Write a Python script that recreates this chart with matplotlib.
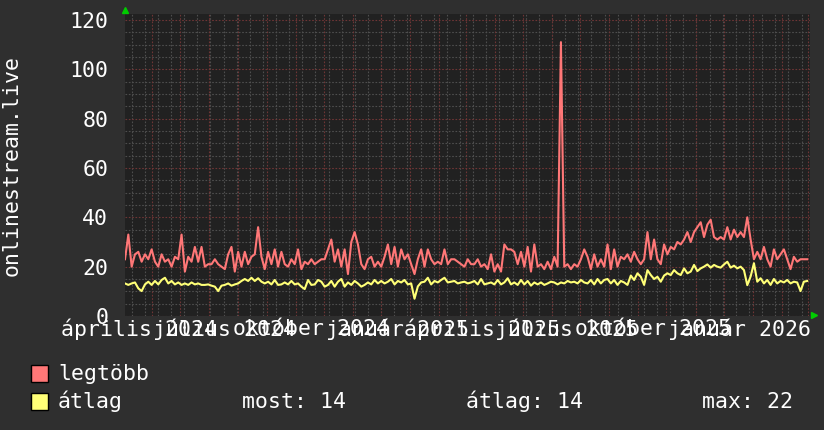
import numpy as np
import pandas as pd
import matplotlib
matplotlib.use("Agg")
import matplotlib.pyplot as plt
from matplotlib.patches import Rectangle

#----data----

legtobb = [
    23, 33, 20, 25, 26, 22, 25, 23, 27, 22,
    20, 25, 22, 23, 20, 24, 23, 33, 18, 24,
    22, 28, 22, 28, 20, 21, 21, 23, 21, 20,
    19, 25, 28, 18, 26, 20, 26, 21, 24, 25,
    36, 24, 19, 26, 21, 27, 20, 26, 21, 20,
    23, 21, 27, 19, 22, 21, 23, 21, 22, 23,
    23, 27, 31, 22, 27, 20, 27, 17, 30, 34,
    29, 21, 19, 23, 24, 20, 22, 20, 24, 29,
    21, 28, 20, 27, 23, 25, 21, 17, 23, 27,
    20, 27, 23, 21, 22, 21, 27, 21, 23, 23,
    22, 21, 20, 23, 21, 21, 23, 20, 21, 19,
    25, 18, 21, 18, 29, 27, 27, 26, 21, 26,
    20, 28, 18, 29, 20, 21, 19, 22, 19, 24,
    20, 111, 20, 21, 19, 21, 20, 23, 27,
    24, 19, 25, 20, 23, 20, 29, 19, 27, 20,
    24, 23, 25, 22, 26, 23, 21, 23, 34, 23,
    31, 23, 21, 29, 25, 28, 27, 30, 29, 31,
    34, 30, 34, 36, 38, 32, 37, 39, 32, 31,
    32, 31, 36, 31, 35, 32, 34, 32, 40, 31,
    23, 26, 23, 28, 23, 20, 27, 23, 25, 27,
    23, 19, 24, 22, 23, 23, 23,
]

atlag = [
    13.2, 12.6, 13.2, 13.6, 11.2, 10.1, 12.8, 13.9, 12.6, 14.2,
    12.8, 14.6, 15.5, 13.2, 14.2, 12.8, 13.6, 12.6, 13.2, 12.6,
    13.6, 12.8, 13.2, 12.6, 12.6, 12.8, 12.3, 11.9, 10.1, 12.3,
    12.6, 13.2, 12.3, 12.8, 13.2, 14.2, 15.0, 14.2, 15.5, 14.2,
    15.3, 13.9, 13.2, 13.9, 12.8, 14.6, 12.6, 12.8, 13.6, 12.8,
    14.2, 12.8, 13.2, 11.9, 10.9, 14.6, 12.6, 12.8, 14.6, 13.9,
    11.9, 12.6, 14.2, 11.9, 13.9, 15.0, 11.9, 13.6, 12.6, 14.2,
    13.2, 11.9, 12.6, 13.6, 12.8, 14.6, 13.2, 14.2, 13.2, 13.9,
    15.0, 12.8, 14.2, 13.6, 14.6, 12.8, 13.2, 7.0, 12.0, 13.6,
    13.9, 15.5, 12.8, 14.2, 13.6, 14.6, 15.5, 13.6, 13.9, 14.2,
    13.2, 13.6, 13.9, 13.2, 13.6, 14.2, 12.8, 15.0, 12.8, 13.2,
    13.6, 12.8, 14.6, 12.8, 13.6, 15.3, 12.8, 13.6, 12.6, 14.6,
    12.8, 14.2, 12.3, 13.6, 12.8, 13.6, 12.6, 13.2, 13.9, 13.6,
    12.8, 13.6, 13.2, 14.2, 13.6, 13.9, 13.2, 14.6, 13.6,
    13.2, 14.6, 12.8, 15.0, 13.2, 14.6, 15.0, 13.2, 14.6, 12.6,
    14.2, 13.6, 12.6, 16.4, 14.6, 17.3, 15.9, 12.6, 18.6, 16.6,
    15.0, 15.9, 13.9, 16.4, 17.3, 16.6, 18.6, 17.3, 16.6, 19.3,
    17.3, 18.0, 20.7, 18.2, 19.3, 20.0, 20.9, 19.6, 20.7, 20.0,
    19.6, 20.9, 22.0, 19.6, 20.4, 19.3, 20.0, 18.6, 12.5, 16.0,
    21.4, 13.9, 15.3, 13.2, 14.6, 12.6, 15.0, 13.2, 14.2, 13.6,
    14.6, 13.2, 13.9, 13.6, 10.1, 13.9, 14.2,
]

dates = pd.date_range("2024-03-17", "2026-03-14", periods=len(legtobb))

label_dates = pd.to_datetime(["2024-04-01", "2024-07-01", "2024-10-01", "2025-01-01",
                              "2025-04-01", "2025-07-01", "2025-10-01", "2026-01-01"])
label_texts = ["április 2024", "július 2024", "október 2024", "január 2025",
               "április 2025", "július 2025", "október 2025", "január 2026"]
y_ticks = [0, 20, 40, 60, 80, 100, 120]

series_names = ["legtöbb", "átlag"]
stats = ["most: 14", "átlag: 14", "max: 22"]
y_title = "onlinestream.live"

#----style----

BG = "#2f2f2f"
CANVAS = "#212121"
RED = "#ff7777"
YELLOW = "#ffff77"
GRID_MINOR = "#4e4e4e"
GRID_MAJOR = "#6e3535"
FONT = "DejaVu Sans Mono"
FS = 15.5

W, H = 824, 430
fig = plt.figure(figsize=(W / 100, H / 100), dpi=100, facecolor=BG)
ax = fig.add_axes([125 / W, 1 - 316 / H, 685 / W, 302 / H])
ax.set_facecolor(CANVAS)

x0 = pd.Timestamp("2024-03-17")
x1 = pd.Timestamp("2026-03-17")
ax.set_xlim(x0, x1)
ax.set_ylim(0, 122.4)

#----grid----
ax.set_yticks(y_ticks)
ax.set_yticks(np.arange(0, 121, 5), minor=True)
ax.set_xticks(pd.date_range("2024-03-24", x1, freq="14D"), minor=True)
ax.grid(which="minor", axis="both", color=GRID_MINOR, linestyle=(0, (1.5, 1.5)), linewidth=0.8, zorder=0)
ax.grid(which="major", axis="y", color=GRID_MAJOR, linestyle=(0, (1.5, 1.5)), linewidth=0.8, zorder=1)
for d in pd.date_range("2024-03-01", x1, freq="MS") + pd.Timedelta(days=14):
    if x0 <= d <= x1:
        ax.axvline(d, color=GRID_MAJOR, linestyle=(0, (1.5, 1.5)), linewidth=0.8, zorder=1)
ax.set_axisbelow(True)

#----lines----
ax.plot(dates, legtobb, color=RED, linewidth=1.5, zorder=3)
ax.plot(dates, atlag, color=YELLOW, linewidth=1.5, zorder=3)

#----ticks----
ax.set_xticks(label_dates)
ax.set_xticklabels(label_texts)
ax.set_yticklabels([str(v) for v in y_ticks])
ax.tick_params(which="both", length=0, colors="white")
ax.tick_params(axis="x", pad=2)
ax.tick_params(axis="y", pad=12)
for lab in ax.get_xticklabels() + ax.get_yticklabels():
    lab.set_fontfamily(FONT)
    lab.set_fontsize(FS)
for s in ax.spines.values():
    s.set_visible(False)

# green arrows at axis ends
ax.plot([0], [1.012], marker="^", color="#00cc00", markersize=5, transform=ax.transAxes, clip_on=False)
ax.plot([1.006], [0.003], marker=">", color="#00cc00", markersize=5, transform=ax.transAxes, clip_on=False)

#----y title----
fig.text(12 / W, 1 - 165 / H, y_title, rotation=90, ha="center", va="center",
         color="white", fontfamily=FONT, fontsize=FS)

#----legend----
for i, (name, col) in enumerate(zip(series_names, [RED, YELLOW])):
    top = 365 + i * 28
    fig.add_artist(Rectangle((31 / W, 1 - (top + 16.5) / H), 16.5 / W, 16.5 / H,
                             transform=fig.transFigure, facecolor=col, edgecolor="black", linewidth=1))
    fig.text(58 / W, 1 - (top + 15) / H, name, ha="left", va="baseline",
             color="white", fontfamily=FONT, fontsize=FS)

for xpos, txt in zip([242, 466, 702], stats):
    fig.text(xpos / W, 1 - 408 / H, txt, ha="left", va="baseline",
             color="white", fontfamily=FONT, fontsize=FS)

plt.savefig("out.png", dpi=100, facecolor=BG)
